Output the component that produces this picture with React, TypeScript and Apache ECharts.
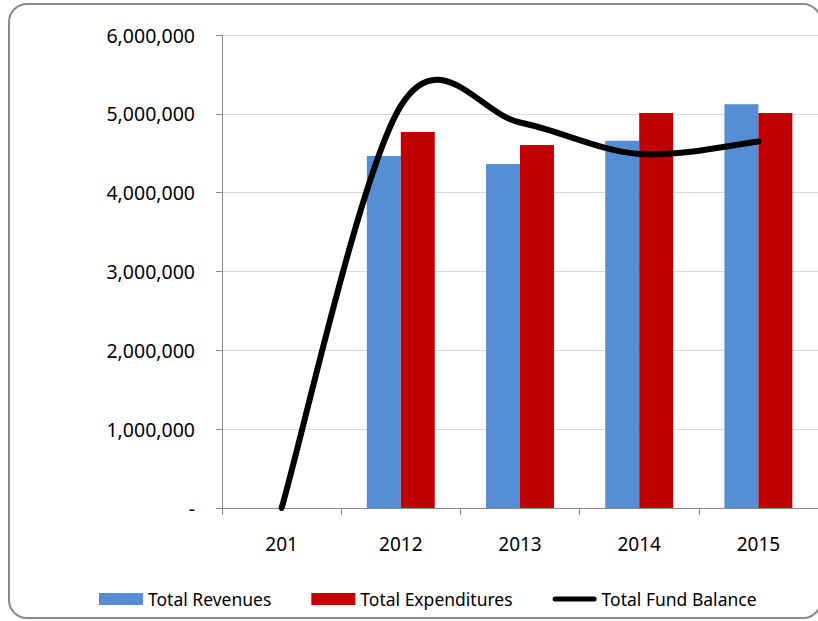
import React, { useEffect, useRef } from "react";
import * as echarts from "echarts";

const categories = ["201", "2012", "2013", "2014", "2015"];
const totalRevenues = [null, 4465000, 4365000, 4660000, 5120000];
const totalExpenditures = [null, 4770000, 4605000, 5010000, 5010000];
const totalFundBalance = [0, 5100000, 4890000, 4490000, 4650000];
const yTicks = [0, 1000000, 2000000, 3000000, 4000000, 5000000, 6000000];

function smoothPath(pts: number[][]): string {
  // Catmull-Rom style cubic Bezier (tension 1/6), like spreadsheet smoothed lines
  let d = `M${pts[0][0]},${pts[0][1]}`;
  for (let i = 0; i < pts.length - 1; i++) {
    const p0 = pts[Math.max(0, i - 1)];
    const p1 = pts[i];
    const p2 = pts[i + 1];
    const p3 = pts[Math.min(pts.length - 1, i + 2)];
    const c1x = p1[0] + (p2[0] - p0[0]) / 6;
    const c1y = p1[1] + (p2[1] - p0[1]) / 6;
    const c2x = p2[0] - (p3[0] - p1[0]) / 6;
    const c2y = p2[1] - (p3[1] - p1[1]) / 6;
    d += ` C${c1x},${c1y} ${c2x},${c2y} ${p2[0]},${p2[1]}`;
  }
  return d;
}

export default function App() {
  const ref = useRef<HTMLDivElement>(null);
  useEffect(() => {
    if (!ref.current) return;
    const chart = echarts.init(ref.current, null, { renderer: "svg" });
    const font = "Noto Sans";
    chart.setOption({
      animation: false,
      textStyle: { fontFamily: font, color: "#000" },
      graphic: [
        {
          type: "rect",
          shape: { x: 9, y: 4, width: 812, height: 614, r: 18 },
          style: { fill: "none", stroke: "#8a8a8a", lineWidth: 2 },
          silent: true,
          z: -10,
        },
      ],
      grid: { left: 222, right: -1, top: 35, bottom: 113, containLabel: false },
      legend: {
        left: 99,
        top: 590,
        padding: 0,
        itemWidth: 44,
        itemHeight: 12,
        itemGap: 40,
        textStyle: { fontFamily: font, fontSize: 17.5, color: "#000" },
        data: [
          { name: "Total Revenues", icon: "rect" },
          { name: "Total Expenditures", icon: "rect" },
          {
            name: "Total Fund Balance",
            icon: "path://M2.5,0 L41.5,0 A2.5,2.5 0 0 1 41.5,5 L2.5,5 A2.5,2.5 0 0 1 2.5,0 Z",
          },
        ],
      },
      xAxis: {
        type: "category",
        data: categories,
        boundaryGap: true,
        axisLine: { show: true, lineStyle: { color: "#8a8a8a", width: 1 } },
        axisTick: { show: true, length: 7, lineStyle: { color: "#8a8a8a" } },
        axisLabel: { fontFamily: font, fontSize: 19, color: "#000", margin: 26 },
        splitLine: { show: false },
      },
      yAxis: {
        type: "value",
        min: yTicks[0],
        max: yTicks[yTicks.length - 1],
        interval: yTicks[1] - yTicks[0],
        axisLine: { show: true, lineStyle: { color: "#8a8a8a", width: 1 } },
        axisTick: { show: true, length: 6, lineStyle: { color: "#8a8a8a" } },
        axisLabel: {
          fontFamily: font,
          fontSize: 19.5,
          color: "#000",
          margin: 27,
          formatter: (v: number) => (v === 0 ? "-" : v.toLocaleString("en-US")),
        },
        splitLine: { show: true, lineStyle: { color: "#d9d9d9", width: 1 } },
      },
      series: [
        {
          name: "Total Revenues",
          type: "bar",
          data: totalRevenues,
          barGap: "0%",
          barCategoryGap: "43%",
          itemStyle: { color: "#558ED5" },
          z: 2,
        },
        {
          name: "Total Expenditures",
          type: "bar",
          data: totalExpenditures,
          barGap: "0%",
          barCategoryGap: "43%",
          itemStyle: { color: "#C00000" },
          z: 2,
        },
        {
          name: "Total Fund Balance",
          type: "custom",
          data: totalFundBalance.map((v, i) => [i, v]),
          encode: { x: 0, y: 1 },
          itemStyle: { color: "#000" },
          z: 5,
          renderItem: (params: any, api: any) => {
            if (params.dataIndex !== 0) return null;
            const pts = totalFundBalance.map((v, i) => api.coord([i, v]));
            return {
              type: "path",
              shape: { pathData: smoothPath(pts) },
              style: {
                fill: "none",
                stroke: "#000",
                lineWidth: 6,
                lineCap: "round",
                lineJoin: "round",
              },
            };
          },
        },
      ],
    });
    return () => chart.dispose();
  }, []);
  return (
    <div
      ref={ref}
      style={{ position: "fixed", left: 0, top: 0, width: 818, height: 621, background: "#fff" }}
    />
  );
}
